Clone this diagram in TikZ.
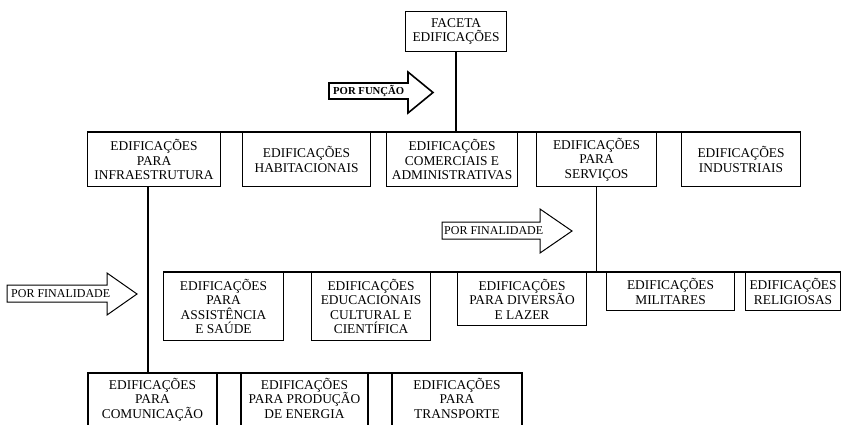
\documentclass[tikz,border=0pt]{standalone}
\usepackage{fontspec}
\setmainfont{Liberation Serif}
\begin{document}
\begin{tikzpicture}[x=1pt,y=-1pt,
  box/.style={draw=black, line width=1.1pt, fill=white, anchor=north west,
    align=center, inner sep=1pt, font=\fontsize{13.4}{14.5}\selectfont},
  boxtext/.style={anchor=north, inner sep=0pt, align=center, font=\fontsize{13.4}{14.5}\selectfont},
  link/.style={draw=black, line width=1.8pt},
  hollow/.style={draw=black, line width=1pt, fill=white, line join=miter},
  arrowtext/.style={inner sep=0pt, font=\fontsize{12}{13}\selectfont}]
\useasboundingbox (0,0) rectangle (841,424);
\clip (0,0) rectangle (841,424);

% facet root
\node[box, minimum width=101pt, minimum height=40pt] (root) at (405,11) {FACETA\\EDIFICAÇÕES};

% first level (by function)
\node[box, minimum width=133pt, minimum height=54pt] (b1) at (87,132) {EDIFICAÇÕES\\PARA\\INFRAESTRUTURA};
\node[box, minimum width=128pt, minimum height=54pt] (b2) at (242,132) {EDIFICAÇÕES\\HABITACIONAIS};
\node[box, minimum width=131pt, minimum height=54pt] (b3) at (386,132) {EDIFICAÇÕES\\COMERCIAIS E\\ADMINISTRATIVAS};
\node[box, minimum width=120pt, minimum height=54pt] (b4) at (536,132) {EDIFICAÇÕES\\PARA\\SERVIÇOS};
\node[box, minimum width=119pt, minimum height=54pt] (b5) at (681,132) {EDIFICAÇÕES\\INDUSTRIAIS};

% services by purpose
\node[box, minimum width=120pt, minimum height=68pt] (s1) at (163,272) {EDIFICAÇÕES\\PARA\\ASSISTÊNCIA\\E SAÚDE};
\node[box, minimum width=119pt, minimum height=68pt] (s2) at (311,272) {EDIFICAÇÕES\\EDUCACIONAIS\\CULTURAL E\\CIENTÍFICA};
\node[box, minimum width=129pt, minimum height=53pt] (s3) at (457,272) {EDIFICAÇÕES\\PARA DIVERSÃO\\E LAZER};
\node[box, minimum width=128pt, minimum height=38pt] (s4) at (606,272) {EDIFICAÇÕES\\MILITARES};
\node[box, minimum width=95pt, minimum height=38pt] (s5) at (745,272) {EDIFICAÇÕES\\RELIGIOSAS};

% infrastructure by purpose (boxes run past the lower edge)
\node[box, minimum width=129pt, minimum height=58pt, anchor=north] (i1) at (152.5,373) {};
\node[boxtext] (i1t) at (152.5,378) {EDIFICAÇÕES\\PARA\\COMUNICAÇÃO};
\node[box, minimum width=127pt, minimum height=58pt, anchor=north] (i2) at (304.5,373) {};
\node[boxtext] (i2t) at (304.5,378) {EDIFICAÇÕES\\PARA PRODUÇÃO\\DE ENERGIA};
\node[box, minimum width=130pt, minimum height=58pt, anchor=north] (i3) at (457,373) {};
\node[boxtext] (i3t) at (457,378) {EDIFICAÇÕES\\PARA\\TRANSPORTE};

% connectors
\coordinate (j1) at (148,186);
\draw[link] (root.south) -- (root.south |- b1.north);
\draw[link] (b1.north west) -- (b5.north east);
\draw[link] (b4.south) -- (b4.south |- s1.north);
\draw[link] (s1.north west) -- (s5.north east);
\draw[line width=1.4pt] (j1) -- (j1 |- i1.north);
\draw[link] (i1.north west) -- (i3.north east);

% hollow arrows naming the division criteria
\draw[hollow, line width=1.6pt] (329,83) -- (408,83) -- (408,72) -- (433,92.5) -- (408,113) -- (408,99) -- (329,99) -- cycle;
\node[arrowtext, font=\fontsize{10.7}{12}\selectfont\bfseries, anchor=west] (fn) at (333,91.5) {POR FUNÇÃO};

\draw[hollow] (442,222) -- (540,222) -- (540,209) -- (572,231) -- (540,253) -- (540,239) -- (442,239) -- cycle;
\node[arrowtext, anchor=west] (fs) at (444,230.5) {POR FINALIDADE};

\draw[hollow] (7,285) -- (107,285) -- (107,273) -- (137,294) -- (107,315) -- (107,302) -- (7,302) -- cycle;
\node[arrowtext, anchor=west] (fi) at (11,293.5) {POR FINALIDADE};
\end{tikzpicture}
\end{document}
